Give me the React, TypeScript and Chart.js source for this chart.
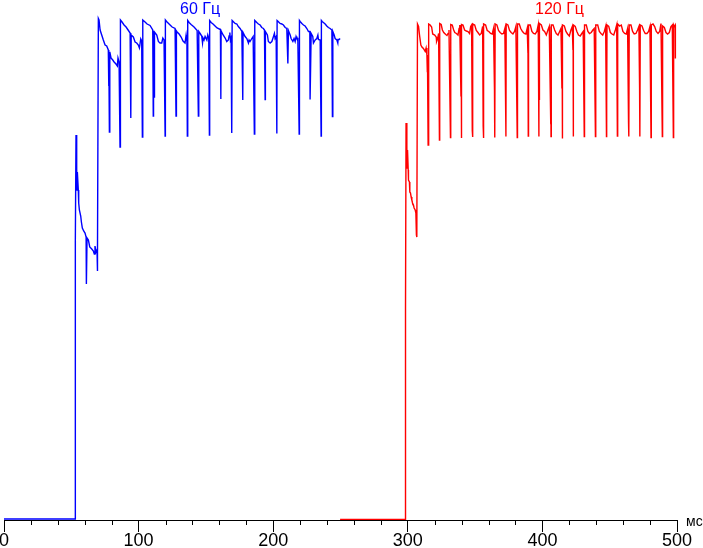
import React, { useEffect, useRef } from "react";
import { Chart, registerables } from "chart.js";

Chart.register(...registerables);

// x axis (ms)
const xMin = 0;
const xMax = 500;
const xMajorStep = 100;
const xMinorTicks = [20, 40, 60, 80, 120, 140, 160, 180, 220, 240, 260, 280, 320, 340, 360, 380, 420, 440, 460, 480];
const unitLabel = "мс";

// series labels and their x positions (ms)
const seriesLabels = ["60 Гц", "120 Гц"];
const seriesLabelX = [145.7, 412.7];
const seriesColors = ["#0000ff", "#ff0000"];

// brightness trace, 60 Hz: [time ms, level]
const trace60: [number, number][] = [
  [0, 0.2], [53.0, 0.2], [53.0, 55.8], [53.5, 77.0], [54.0, 70.0], [54.3, 66.0], [54.5, 69.6], [55.2, 66.0], [55.5, 63.4], [56.0, 62.0],
  [57.0, 60.8], [57.5, 59.6], [58.2, 58.4], [59.2, 57.8], [60.2, 57.4], [61.0, 56.6], [61.2, 47.2], [61.7, 56.4], [62.7, 56.0], [63.7, 54.6],
  [65.2, 54.2], [66.4, 53.8], [67.1, 53.2], [67.6, 54.8], [68.4, 53.6], [69.1, 54.0], [69.3, 49.8], [69.6, 53.2], [70.1, 100.3],
  [70.6, 100.0], [71.4, 98.0], [72.6, 97.0], [73.8, 96.0], [75.1, 95.0], [76.3, 94.8], [77.5, 94.0], [77.7, 86.8], [78.0, 94.0], [78.3, 77.6],
  [78.6, 93.6], [79.5, 92.4], [80.8, 92.0], [81.8, 91.6], [83.2, 91.2], [84.2, 90.8], [84.7, 92.4], [85.5, 91.6], [86.2, 74.6], [86.5, 100.0],
  [87.7, 99.6], [89.2, 99.0], [90.7, 98.6], [92.2, 98.0], [93.7, 97.4], [94.2, 80.4], [94.5, 97.0], [96.1, 96.6], [97.4, 95.6], [98.6, 95.4],
  [99.8, 95.0], [100.6, 94.4], [101.6, 96.2], [102.3, 95.8], [102.8, 76.6], [103.1, 100.0],
  [104.8, 99.6], [106.3, 99.2], [108.5, 98.9], [110.5, 98.0], [110.9, 80.8], [111.1, 97.8], [111.5, 84.6], [111.8, 97.6], [113.5, 97.0], [114.7, 95.7],
  [115.9, 95.4], [117.2, 95.4], [118.0, 96.4], [118.9, 96.0], [119.7, 76.8], [119.9, 100.0],
  [120.8, 99.7], [121.9, 99.4], [123.4, 99.0], [124.9, 98.6], [127.1, 98.3], [127.8, 80.8], [128.1, 97.8], [128.6, 97.6], [130.1, 97.2], [131.6, 96.6],
  [133.0, 95.8], [134.5, 95.4], [135.3, 97.0], [135.9, 95.7], [136.2, 76.8], [136.5, 99.9],
  [137.5, 99.5], [139.0, 99.1], [141.2, 98.6], [143.5, 97.9], [144.4, 80.8], [144.7, 97.7], [145.7, 97.3], [146.9, 96.8], [147.5, 95.4], [147.9, 96.4],
  [148.6, 96.0], [149.4, 96.7], [150.7, 96.0], [151.4, 97.0], [152.1, 96.4], [152.6, 77.0], [152.8, 99.9],
  [153.9, 99.5], [155.3, 99.2], [156.8, 98.8], [158.3, 98.4], [160.8, 98.1], [161.1, 84.2], [161.3, 97.8], [162.8, 97.0], [164.3, 96.4], [165.5, 95.7],
  [166.7, 96.0], [167.2, 96.8], [167.8, 97.5], [168.2, 96.0], [168.7, 96.4], [169.2, 77.4], [169.5, 99.9],
  [170.6, 99.6], [171.7, 99.3], [173.0, 99.2], [174.1, 98.7], [175.4, 98.3], [176.7, 97.7], [177.4, 84.0], [177.6, 97.5], [179.1, 96.7], [180.4, 96.3],
  [181.6, 95.4], [182.1, 96.0], [182.8, 95.7], [184.1, 96.3], [185.1, 96.7], [186.0, 77.2], [186.3, 99.9],
  [187.8, 99.5], [189.0, 99.2], [190.3, 99.0], [191.5, 98.5], [192.7, 98.3], [193.5, 98.0], [194.0, 84.1], [194.2, 97.7], [195.7, 97.0], [196.4, 95.7],
  [197.7, 95.4], [199.0, 95.7], [200.2, 96.7], [200.9, 97.3], [201.4, 96.3], [202.2, 96.7], [202.7, 77.3], [202.9, 99.9],
  [203.7, 99.7], [205.1, 99.3], [206.4, 99.2], [207.6, 99.0], [208.9, 98.5], [210.1, 98.3], [210.9, 91.3], [211.3, 97.9], [212.6, 97.0], [213.3, 96.3],
  [214.6, 95.7], [215.5, 96.3], [216.3, 95.7], [217.0, 96.7], [217.6, 96.3], [218.3, 96.3], [219.3, 77.2], [219.5, 99.9],
  [220.0, 99.7], [221.3, 99.3], [222.5, 99.0], [223.7, 98.8], [225.0, 98.3], [226.2, 97.7], [227.2, 97.7], [227.4, 84.1], [228.2, 97.3], [229.4, 96.7],
  [229.9, 95.4], [231.2, 96.0], [232.4, 96.3], [233.2, 97.0], [233.6, 96.1], [234.9, 96.0], [235.6, 76.8], [235.8, 99.9],
  [236.4, 99.7], [237.3, 99.5], [238.6, 99.2], [239.8, 98.8], [241.0, 98.5], [242.3, 98.3], [243.6, 98.0], [244.0, 80.7], [244.3, 97.7], [245.3, 97.0],
  [246.0, 96.3], [247.3, 96.0], [248.0, 95.4], [248.2, 96.1], [249.0, 96.1], [249.7, 96.3],
];

// brightness trace, 120 Hz: [time ms, level]
const trace120: [number, number][] = [
  [249.7, 0.1], [298.3, 0.1], [298.3, 42.2], [298.7, 79.4], [299.3, 74.4], [299.5, 70.4], [299.8, 74.0], [300.3, 70.0], [300.5, 68.0], [301.2, 67.6],
  [301.5, 65.6], [302.0, 65.4], [302.5, 64.6], [303.0, 64.0], [303.5, 63.4], [304.2, 63.0], [304.7, 62.4], [305.5, 62.0], [306.0, 61.4], [306.4, 57.0],
  [306.7, 56.6], [307.2, 99.2],
  [308.0, 98.7], [308.7, 97.0], [309.7, 95.0], [310.5, 94.6], [311.6, 94.3], [312.9, 93.7], [313.6, 94.4], [314.2, 93.0], [314.5, 89.7], [314.6, 93.0], [315.1, 75.0],
  [315.5, 99.2], [316.6, 99.0], [317.7, 98.6], [318.5, 97.2], [320.0, 97.0], [321.1, 96.6], [321.4, 95.7], [322.2, 96.3], [322.9, 97.3], [323.5, 76.0],
  [323.7, 99.3], [324.8, 99.1], [325.7, 98.0], [326.7, 97.5], [328.2, 97.1], [329.1, 96.9], [329.9, 97.3], [330.6, 98.0], [331.7, 76.5],
  [331.9, 99.1], [333.0, 99.0], [334.1, 98.0], [334.9, 97.5], [336.1, 97.3], [337.3, 97.0], [338.1, 98.3], [338.6, 99.0], [339.5, 84.7], [339.6, 99.0], [339.8, 76.4],
  [340.0, 99.1], [341.0, 99.0], [342.2, 98.0], [343.5, 97.8], [344.7, 97.7], [345.9, 97.3], [346.7, 98.7], [347.4, 99.0], [347.9, 77.9], [348.0, 99.0], [348.2, 76.6],
  [348.4, 99.2], [349.7, 99.0], [350.9, 97.9], [352.1, 97.5], [353.4, 97.0], [354.6, 97.3], [355.6, 98.7], [356.0, 78.8], [356.1, 98.7], [356.3, 76.4],
  [356.5, 99.2], [357.8, 99.0], [359.0, 97.9], [360.2, 97.7], [361.5, 97.3], [362.7, 97.2], [363.7, 98.3], [364.4, 86.0], [364.5, 98.3], [364.7, 76.5],
  [364.9, 99.2], [366.2, 99.0], [367.4, 97.9], [368.6, 97.5], [369.9, 97.2], [371.1, 97.3], [372.1, 98.3], [372.9, 76.7],
  [373.1, 99.2], [374.4, 99.0], [375.6, 97.9], [376.8, 97.5], [378.1, 97.2], [379.3, 97.7], [380.3, 98.7], [381.3, 76.5],
  [381.5, 99.2], [382.8, 99.2], [383.9, 98.3], [385.2, 97.7], [386.5, 97.3], [387.7, 97.2], [388.7, 98.3], [389.2, 93.4], [389.3, 98.0], [389.5, 76.8],
  [389.7, 99.0], [391.0, 99.0], [392.2, 97.7], [393.4, 97.3], [394.7, 97.2], [395.9, 97.7], [396.9, 99.0], [397.4, 76.7], [397.5, 99.0], [397.7, 84.0],
  [397.9, 99.3], [399.2, 99.0], [400.4, 98.0], [401.6, 97.7], [402.9, 97.0], [404.1, 98.0], [405.1, 98.7], [406.2, 79.3], [406.3, 98.7], [406.4, 76.7],
  [406.6, 99.0], [407.9, 99.0], [409.1, 98.0], [410.3, 97.3], [411.6, 97.0], [412.8, 97.7], [413.8, 98.3], [414.5, 86.3], [414.6, 98.3], [414.8, 76.3],
  [415.0, 99.0], [416.3, 98.8], [417.5, 97.7], [418.7, 97.2], [420.0, 96.8], [421.2, 98.0], [422.2, 98.7], [422.7, 94.0], [422.8, 98.7], [422.9, 76.7],
  [423.1, 99.0], [424.4, 98.7], [425.6, 97.7], [426.8, 97.0], [428.1, 96.8], [429.3, 97.3], [430.3, 97.7], [431.1, 76.7],
  [431.3, 99.0], [432.6, 99.0], [433.8, 97.7], [435.0, 97.3], [436.3, 97.5], [437.5, 98.0], [438.5, 98.3], [439.4, 76.7], [439.5, 98.3], [439.6, 92.8],
  [439.8, 99.0], [441.1, 99.0], [442.3, 97.7], [443.5, 97.3], [444.8, 97.0], [446.0, 97.7], [447.0, 98.7], [447.6, 76.7], [447.7, 98.7], [447.8, 83.5],
  [448.0, 99.0], [449.3, 98.7], [450.5, 97.5], [451.7, 97.2], [453.0, 97.0], [454.2, 98.0], [455.2, 99.0], [455.7, 76.8], [455.8, 99.0], [455.9, 78.1],
  [456.1, 99.2], [457.4, 98.8], [458.6, 99.0], [459.8, 97.7], [461.1, 97.3], [462.3, 97.2], [463.3, 98.3], [464.0, 79.3], [464.1, 98.3], [464.3, 76.7],
  [464.5, 99.0], [465.8, 99.0], [467.0, 97.7], [468.2, 97.2], [469.5, 97.3], [470.7, 98.0], [471.7, 98.7], [472.2, 86.5], [472.3, 98.7], [472.5, 76.7],
  [472.7, 99.0], [474.0, 98.8], [475.2, 97.9], [476.4, 97.3], [477.7, 97.3], [478.9, 97.7], [479.9, 98.7], [480.7, 76.5],
  [480.9, 99.0], [482.2, 99.2], [483.4, 98.7], [484.6, 97.7], [485.9, 97.3], [487.1, 97.7], [488.1, 99.3], [489.1, 76.7],
  [489.3, 98.8], [490.6, 98.5], [491.8, 97.5], [493.0, 97.2], [494.3, 97.5], [495.5, 98.7], [496.5, 99.0], [497.3, 76.5],
  [497.5, 99.0], [498.0, 98.7], [498.7, 99.0], [498.8, 92.3],
];

const yMin = 0;
const yMax = 104;

const overlayPlugin = {
  id: "overlayText",
  afterDraw(chart: any) {
    const { ctx, chartArea } = chart;
    const xs = chart.scales.x;
    ctx.save();
    ctx.strokeStyle = "#000";
    ctx.lineWidth = 1;
    xMinorTicks.forEach((v) => {
      const px = Math.round(xs.getPixelForValue(v)) + 0.5;
      ctx.beginPath();
      ctx.moveTo(px, chartArea.bottom);
      ctx.lineTo(px, chartArea.bottom + 5);
      ctx.stroke();
    });
    ctx.font = "16px 'Liberation Sans', Arial, sans-serif";
    ctx.textAlign = "center";
    ctx.textBaseline = "alphabetic";
    seriesLabels.forEach((t, i) => {
      ctx.fillStyle = seriesColors[i];
      ctx.fillText(t, xs.getPixelForValue(seriesLabelX[i]), 13.5);
    });
    ctx.fillStyle = "#000";
    ctx.font = "14px 'Liberation Sans', Arial, sans-serif";
    ctx.textAlign = "left";
    ctx.fillText(unitLabel, chartArea.right + 9, 526);
    ctx.restore();
  },
};

export default function App() {
  const ref = useRef<HTMLCanvasElement | null>(null);
  useEffect(() => {
    document.body.style.margin = "0";
    const canvas = ref.current;
    if (!canvas) return;
    const chart = new Chart(canvas, {
      type: "line",
      data: {
        datasets: [
          {
            label: seriesLabels[0],
            data: trace60.map(([x, y]) => ({ x, y })),
            borderColor: seriesColors[0],
            borderWidth: 1.4,
            pointRadius: 0,
            tension: 0,
            fill: false,
          },
          {
            label: seriesLabels[1],
            data: trace120.map(([x, y]) => ({ x, y })),
            borderColor: seriesColors[1],
            borderWidth: 1.4,
            pointRadius: 0,
            tension: 0,
            fill: false,
          },
        ],
      },
      options: {
        responsive: false,
        animation: false,
        layout: { padding: { left: 4, right: 26, top: 0, bottom: 0 } },
        plugins: {
          legend: { display: false },
          tooltip: { enabled: false },
          title: { display: false },
        },
        scales: {
          x: {
            type: "linear",
            min: xMin,
            max: xMax,
            ticks: {
              stepSize: xMajorStep,
              color: "#000",
              autoSkip: false,
              maxRotation: 0,
              padding: 0,
              font: { family: "'Liberation Sans Narrow', 'Arial Narrow', 'Liberation Sans', Arial, sans-serif", size: 18, lineHeight: 1 },
            },
            grid: {
              drawOnChartArea: false,
              drawTicks: true,
              tickLength: 12,
              color: "#000",
              tickColor: "#000",
              lineWidth: 1,
            },
            border: { display: true, color: "#000", width: 1 },
            afterFit: (s: any) => {
              s.height = 28;
              s.paddingLeft = 0;
              s.paddingRight = 0;
            },
          },
          y: { display: false, min: yMin, max: yMax },
        },
      },
      plugins: [overlayPlugin],
    } as any);
    return () => chart.destroy();
  }, []);
  return (
    <div style={{ width: 703, height: 548, background: "#fff" }}>
      <canvas ref={ref} width={703} height={548} style={{ display: "block" }} />
    </div>
  );
}
